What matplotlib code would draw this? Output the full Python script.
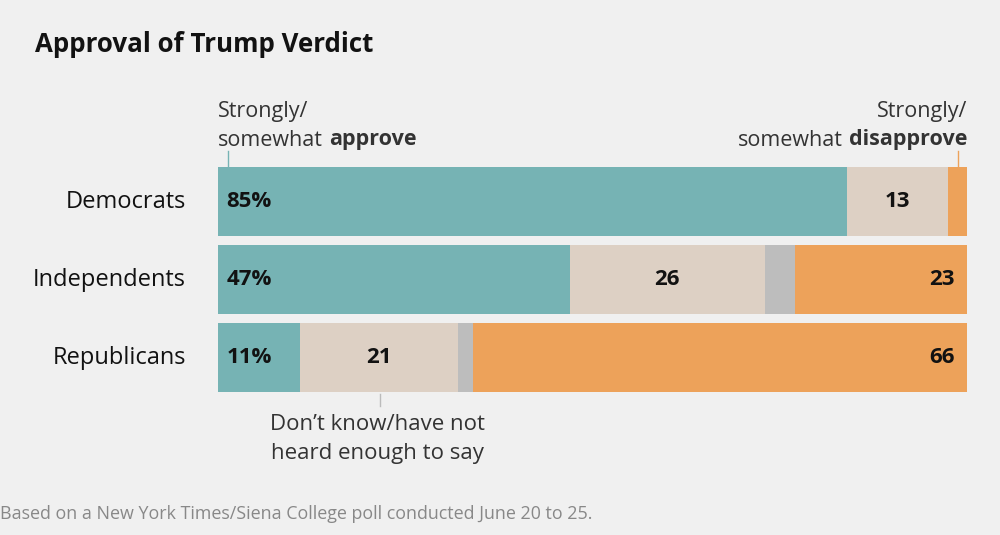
import matplotlib.pyplot as plt

# data
groups = ["Democrats", "Independents", "Republicans"]
approve = [84, 47, 11]
dont_know = [13.5, 26, 21]
other = [0, 4, 2]
disapprove = [2.5, 23, 66]
approve_labels = ["85%", "47%", "11%"]
dont_know_labels = ["13", "26", "21"]
disapprove_labels = ["", "23", "66"]

teal = "#76b3b4"
beige = "#ddd0c4"
grey = "#bdbdbd"
orange = "#eda25a"
bg = "#f0f0f0"
ink = "#121212"
soft = "#333333"

plt.rcParams['font.family'] = ['Open Sans', 'DejaVu Sans']

W, H = 1000, 535
fig = plt.figure(figsize=(10, 5.35), dpi=100, facecolor=bg)
renderer = fig.canvas.get_renderer()

def px(x, y):
    return x / W, 1 - y / H

def width_px(t):
    return t.get_window_extent(renderer=renderer).width

# axes in pixel space: bars from x 218 to 967, y 167 to 392
ax = fig.add_axes([218 / W, (H - 392) / H, 749 / W, 225 / H])
ax.set_facecolor(bg)
h = 69 / 78
ys = range(len(groups))

left = [0] * len(groups)
for vals, col in [(approve, teal), (dont_know, beige), (other, grey), (disapprove, orange)]:
    ax.barh(ys, vals, left=left, height=h, color=col, edgecolor='none')
    left = [l + v for l, v in zip(left, vals)]

ax.set_xlim(0, 100)
ax.set_ylim(2 + h / 2, -h / 2)
ax.axis('off')

for i in ys:
    ax.text(1.1, i, approve_labels[i], ha='left', va='center',
            fontsize=16, fontweight='bold', color=ink)
    ax.text(approve[i] + dont_know[i] / 2, i, dont_know_labels[i], ha='center',
            va='center', fontsize=16, fontweight='bold', color=ink)
    if disapprove_labels[i]:
        ax.text(98.4, i, disapprove_labels[i], ha='right', va='center',
                fontsize=16, fontweight='bold', color=ink)
    fig.text(*px(186, 202 + 78 * i), groups[i], ha='right', va='center',
             fontsize=17, color=ink)

# title
fig.text(*px(35, 44), "Approval of Trump Verdict", ha='left', va='center',
         fontsize=18.6, fontweight='bold', color=ink)

# annotations
fs = 15.5
fig.text(*px(218, 111), "Strongly/", ha='left', va='center', fontsize=fs, color=soft)
t = fig.text(*px(218, 140), "somewhat", ha='left', va='center', fontsize=fs, color=soft)
fig.text(*px(218 + width_px(t) + 6, 140), "approve", ha='left', va='center',
         fontsize=fs, fontweight='bold', color=soft)
fig.lines.append(plt.Line2D([228 / W, 228 / W], [1 - 151 / H, 1 - 166 / H],
                            transform=fig.transFigure, color=teal, lw=1))

fig.text(*px(967, 111), "Strongly/", ha='right', va='center', fontsize=fs, color=soft)
t = fig.text(*px(967, 140), "disapprove", ha='right', va='center', fontsize=fs,
             fontweight='bold', color=soft)
fig.text(*px(967 - width_px(t) - 6, 140), "somewhat", ha='right', va='center',
         fontsize=fs, color=soft)
fig.lines.append(plt.Line2D([958 / W, 958 / W], [1 - 151 / H, 1 - 166 / H],
                            transform=fig.transFigure, color=orange, lw=1))

fig.text(*px(377, 424), "Don\u2019t know/have not", ha='center', va='center',
         fontsize=16, color=soft)
fig.text(*px(377, 454), "heard enough to say", ha='center', va='center',
         fontsize=16, color=soft)
fig.lines.append(plt.Line2D([380 / W, 380 / W], [1 - 394 / H, 1 - 406 / H],
                            transform=fig.transFigure, color='#bbbbbb', lw=1))

fig.text(*px(0, 514), "Based on a New York Times/Siena College poll conducted June 20 to 25.",
         ha='left', va='center', fontsize=12.9, color='#888888')

fig.savefig("out.png", dpi=100, facecolor=bg)
